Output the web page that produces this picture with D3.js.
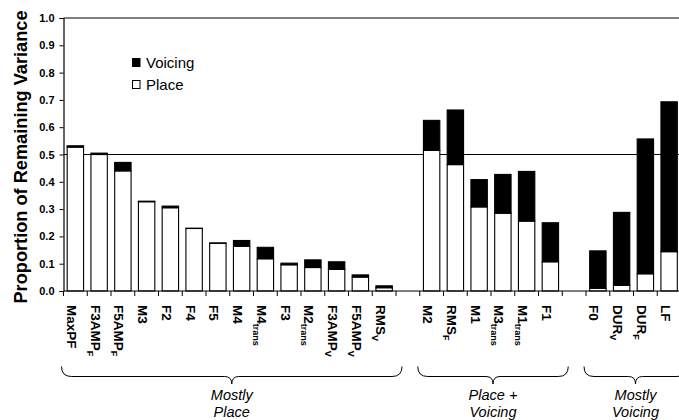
<!DOCTYPE html>
<html>
<head>
<meta charset="utf-8">
<script src="https://cdn.jsdelivr.net/npm/d3@7"></script>
<style>
  body { margin: 0; background: #fff; }
  svg { font-family: "Liberation Sans", Arial, sans-serif; }
</style>
</head>
<body>
<svg id="chart" width="679" height="420"></svg>
<script>
// slots, blank ones separate the groups
let labels = ['MaxPF', 'F3AMP', 'F5AMP', 'M3', 'F2', 'F4', 'F5', 'M4', 'M4', 'F3', 'M2', 'F3AMP', 'F5AMP', 'RMS', '',
  'M2', 'RMS', 'M1', 'M3', 'M1', 'F1', '', 'F0', 'DUR', 'DUR', 'LF']
let subs = ['', 'F', 'F', '', '', '', '', '', 'trans', '', 'trans', 'V', 'V', 'V', '',
  '', 'F', '', 'trans', 'trans', '', '', '', 'V', 'F', '']

let place = [0.527, 0.500, 0.440, 0.327, 0.305, 0.229, 0.175, 0.164, 0.118, 0.096, 0.086, 0.079, 0.051, 0.012, null,
  0.515, 0.463, 0.308, 0.285, 0.256, 0.107, null, 0.010, 0.021, 0.063, 0.144]
let voicing = [0.005, 0.005, 0.031, 0.002, 0.006, 0.001, 0.001, 0.021, 0.042, 0.006, 0.028, 0.028, 0.008, 0.007, null,
  0.110, 0.200, 0.100, 0.142, 0.182, 0.143, null, 0.137, 0.267, 0.494, 0.549]

let yTicks = [0, 0.1, 0.2, 0.3, 0.4, 0.5, 0.6, 0.7, 0.8, 0.9, 1.0]
let refLine = 0.5

let groupNames = [['Mostly', 'Place'], ['Place +', 'Voicing'], ['Mostly', 'Voicing']]
let groupFrom = [0, 15, 22]
let groupTo = [13, 20, 25]

let svg = d3.select('#chart')

let x = d3.scaleBand()
  .domain(d3.range(labels.length))
  .range([63.5, 681])
  .paddingInner(0.31)
  .paddingOuter(0.155)

let y = d3.scaleLinear()
  .domain([0, 1])
  .range([291, 18])

let step = x.step()
let slotStart = (i) => x(i) - x.paddingOuter() * step

// frame top and reference line
svg.append('line')
  .attr('x1', 63.5).attr('x2', 679)
  .attr('y1', y(1)).attr('y2', y(1))
  .attr('stroke', '#000').attr('stroke-width', 1)
svg.append('line')
  .attr('x1', 63.5).attr('x2', 679)
  .attr('y1', y(refLine)).attr('y2', y(refLine))
  .attr('stroke', '#000').attr('stroke-width', 1.2)

let bars = svg.selectAll('g.bar')
  .data(labels.map((d, i) => ({ i: i, p: place[i], v: voicing[i] })).filter(d => d.p != null))
  .enter()
  .append('g')
  .attr('class', 'bar')

bars.append('rect')
  .attr('x', d => x(d.i))
  .attr('width', x.bandwidth())
  .attr('y', d => y(d.p))
  .attr('height', d => y(0) - y(d.p))
  .attr('fill', '#fff')
  .attr('stroke', '#000')
  .attr('stroke-width', 1.1)

bars.append('rect')
  .attr('x', d => x(d.i))
  .attr('width', x.bandwidth())
  .attr('y', d => y(d.p + d.v))
  .attr('height', d => y(d.p) - y(d.p + d.v))
  .attr('fill', '#000')
  .attr('stroke', '#000')
  .attr('stroke-width', 1.1)

// y axis
let yAxis = svg.append('g')
  .attr('transform', 'translate(63.5,0)')
  .call(d3.axisLeft(y).tickValues(yTicks).tickFormat(d3.format('.1f')).tickSize(4).tickPadding(5))
yAxis.select('.domain').attr('stroke-width', 1.2)
yAxis.selectAll('text')
  .attr('font-size', 11)
  .attr('font-weight', 'bold')
  .attr('font-family', '"Liberation Sans", Arial, sans-serif')

svg.append('text')
  .attr('transform', 'translate(26.5,157) rotate(-90)')
  .attr('text-anchor', 'middle')
  .attr('font-size', 18.2)
  .attr('font-weight', 'bold')
  .text('Proportion of Remaining Variance')

// x axis with ticks on slot boundaries
svg.append('line')
  .attr('x1', 63.5).attr('x2', 679)
  .attr('y1', y(0)).attr('y2', y(0))
  .attr('stroke', '#000').attr('stroke-width', 1.2)
svg.selectAll('line.xtick')
  .data(d3.range(labels.length))
  .enter()
  .append('line')
  .attr('class', 'xtick')
  .attr('x1', d => slotStart(d)).attr('x2', d => slotStart(d))
  .attr('y1', y(0)).attr('y2', y(0) + 5)
  .attr('stroke', '#000')

let xl = svg.selectAll('text.xlab')
  .data(labels.map((d, i) => ({ i: i, t: d, s: subs[i] })).filter(d => d.t != ''))
  .enter()
  .append('text')
  .attr('class', 'xlab')
  .attr('transform', d => `translate(${x(d.i) + x.bandwidth() / 2}, 305) rotate(90)`)
  .attr('y', 8.5)
  .attr('font-size', 13.5)
  .attr('font-weight', 'bold')
xl.append('tspan').text(d => d.t)
xl.filter(d => d.s != '')
  .append('tspan')
  .attr('dy', 3.5)
  .attr('font-size', 9)
  .text(d => d.s)

// legend
let legend = svg.append('g')
legend.append('rect').attr('x', 132.5).attr('y', 58.5).attr('width', 7.5).attr('height', 8)
  .attr('fill', '#000').attr('stroke', '#000')
legend.append('rect').attr('x', 132.5).attr('y', 80.5).attr('width', 7.5).attr('height', 8)
  .attr('fill', '#fff').attr('stroke', '#000')
legend.append('text').attr('x', 146).attr('y', 68).attr('font-size', 15).text('Voicing')
legend.append('text').attr('x', 146).attr('y', 90).attr('font-size', 15).text('Place')

// braces under the groups
groupNames.forEach((name, g) => {
  let x0 = slotStart(groupFrom[g]) - 2
  let x1 = slotStart(groupTo[g]) + step + 6
  let cx = (x0 + x1) / 2
  let top = 366.5, mid = 376.5, tip = 384
  svg.append('path')
    .attr('d', `M${x0},${top} Q${x0},${mid} ${x0 + 10},${mid} L${cx - 7},${mid} Q${cx},${mid} ${cx},${tip}` +
      ` Q${cx},${mid} ${cx + 7},${mid} L${x1 - 10},${mid} Q${x1},${mid} ${x1},${top}`)
    .attr('fill', 'none')
    .attr('stroke', '#000')
    .attr('stroke-width', 1)
  name.forEach((line, k) => {
    svg.append('text')
      .attr('x', cx)
      .attr('y', 400 + k * 16.5)
      .attr('text-anchor', 'middle')
      .attr('font-size', 14.5)
      .attr('font-style', 'italic')
      .text(line)
  })
})
</script>
</body>
</html>
